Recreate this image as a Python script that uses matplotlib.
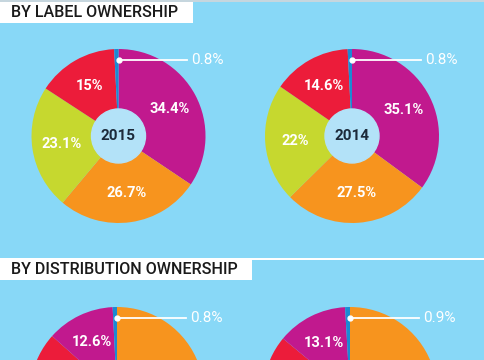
import numpy as np
import matplotlib
matplotlib.use('Agg')
import matplotlib.pyplot as plt
from matplotlib.patches import Circle, Rectangle

# data
years          = ['2015', '2014']
label_own_2015 = [34.4, 26.7, 23.1, 15.0, 0.8]
label_own_2014 = [35.1, 27.5, 22.0, 14.6, 0.8]
label_colors   = ['#c1198e', '#f7941e', '#c6d82f', '#ec1c3a', '#1b8ad3']

# bottom charts are cut off by the frame, only the top is visible
dist_own_2015  = [38.9, 30.1, 17.6, 12.6, 0.8]
dist_own_2014  = [38.3, 30.0, 17.7, 13.1, 0.9]
dist_colors    = ['#f7941e', '#c6d82f', '#ec1c3a', '#c1198e', '#1b8ad3']

titles = ['BY LABEL OWNERSHIP', 'BY DISTRIBUTION OWNERSHIP']

W, H = 485, 360
bg   = '#88d8f7'
hole = '#b3e2f8'
font = 'Roboto'

fig = plt.figure(figsize=(W/100., H/100.), dpi=100)
fig.patch.set_facecolor(bg)
ax = fig.add_axes([0, 0, 1, 1])
ax.set_facecolor(bg)

R   = 87
cxs = [118.5, 352]


def donut(vals, colors, cx, cy, year):
    wedges, _ = ax.pie(vals, colors=colors, startangle=90, counterclock=False,
                       center=(cx, cy), radius=R, frame=True,
                       wedgeprops=dict(linewidth=0))
    for w, v in zip(wedges[:-1], vals[:-1]):
        ang = np.deg2rad((w.theta1 + w.theta2) / 2.)
        tx, ty = cx + 0.66*R*np.cos(ang), cy + 0.66*R*np.sin(ang)
        if ty < 8:   # label falls below the picture edge
            continue
        ax.text(tx, ty, '{:g}%'.format(v),
                color='white', fontsize=10.5, fontweight='bold', family=font,
                ha='center', va='center')
    # small slice with a pointer line
    dy = 0.87*R
    ax.plot([cx + 0.5, cx + 69], [cy + dy, cy + dy], color='white', lw=1.3)
    ax.plot(cx + 0.5, cy + dy, 'o', color='white', ms=3.5)
    ax.text(cx + 73, cy + dy, '{:g}%'.format(vals[-1]), color='white', fontsize=11,
            family=font, ha='left', va='center')
    ax.add_patch(Circle((cx, cy), 27, color=hole, zorder=3))
    if cy > 8:
        ax.text(cx, cy, year, color='#1c2a3a', fontsize=11, fontweight='bold',
                family=font, ha='center', va='center', zorder=4)


# headers
ax.add_patch(Rectangle((0, H - 1.5), W, 1.5, color='#c6d6de', lw=0))
ax.add_patch(Rectangle((0, H - 23), 193, 21, color='white', lw=0))
ax.text(11, H - 12.5, titles[0], fontsize=11.6, fontweight='medium', family=font,
        color='#1a1a1a', ha='left', va='center')
ax.add_patch(Rectangle((0, H - 259.5), W, 1.5, color='white', lw=0))
ax.add_patch(Rectangle((0, H - 280), 252, 21, color='white', lw=0))
ax.text(11, H - 269.5, titles[1], fontsize=11.6, fontweight='medium', family=font,
        color='#1a1a1a', ha='left', va='center')

donut(label_own_2015, label_colors, cxs[0], H - 136, years[0])
donut(label_own_2014, label_colors, cxs[1], H - 136, years[1])
donut(dist_own_2015, dist_colors, cxs[0] - 1.5, H - 394, years[0])
donut(dist_own_2014, dist_colors, cxs[1] - 2, H - 394, years[1])

ax.set_xlim(0, W)
ax.set_ylim(0, H)
ax.set_aspect('auto')
ax.axis('off')

fig.savefig('out.png', dpi=100, facecolor=bg)
